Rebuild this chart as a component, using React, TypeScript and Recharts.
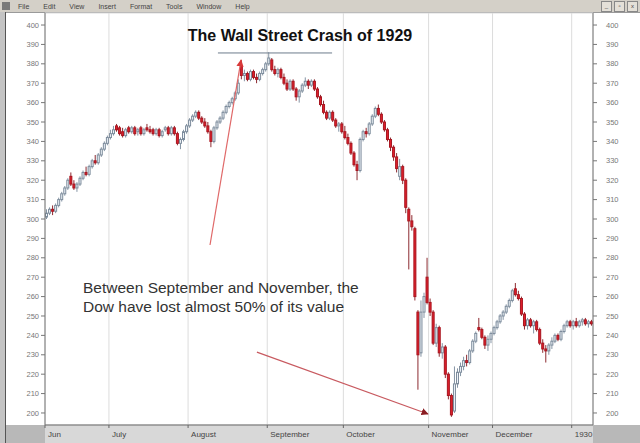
import { ComposedChart, Bar, XAxis, YAxis, CartesianGrid, ReferenceLine } from 'recharts'

// open, high, low, close
type Ohlc = [number, number, number, number]

const june: Ohlc[] = [
  [301, 305, 300, 303], [303, 306, 302, 305], [305, 307, 302, 304], [304, 308, 303, 307],
  [307, 311, 306, 310], [310, 314, 309, 313], [313, 317, 312, 316], [316, 321, 315, 320],
  [322, 324, 317, 318], [318, 320, 315, 316], [316, 319, 314, 318], [318, 322, 317, 321],
  [321, 325, 320, 324], [324, 327, 322, 323], [323, 328, 322, 327], [327, 331, 326, 330],
  [330, 333, 328, 329], [329, 334, 328, 333], [333, 337, 332, 336], [336, 340, 335, 339],
  [339, 343, 338, 342],
]
const july: Ohlc[] = [
  [342, 346, 341, 344], [344, 348, 343, 346], [348, 349, 345, 346], [347, 348, 343, 344],
  [345, 347, 342, 343], [343, 347, 342, 346], [347, 348, 344, 345], [345, 348, 344, 347],
  [347, 348, 343, 344], [345, 347, 343, 346], [347, 348, 343, 344], [344, 347, 343, 346],
  [347, 349, 345, 346], [346, 348, 344, 345], [346, 347, 343, 344], [344, 347, 343, 346],
  [346, 347, 342, 343], [343, 346, 342, 345], [346, 348, 345, 347], [347, 348, 343, 344],
  [344, 348, 343, 347], [347, 348, 343, 344], [344, 345, 338, 339], [339, 342, 336, 341],
  [341, 346, 340, 345], [345, 349, 344, 348],
]
const august: Ohlc[] = [
  [348, 352, 347, 351], [351, 354, 350, 353], [353, 356, 352, 355], [355, 356, 351, 352],
  [352, 353, 349, 350], [350, 352, 347, 348], [348, 350, 344, 345], [345, 346, 337, 340],
  [340, 348, 339, 347], [347, 351, 346, 350], [350, 353, 349, 352], [352, 356, 351, 355],
  [355, 359, 354, 358], [358, 361, 357, 360], [360, 363, 359, 362], [362, 366, 361, 365],
  [365, 372, 364, 370], [379, 382, 372, 374], [374, 377, 371, 375], [375, 376, 371, 372],
  [372, 377, 371, 376], [376, 377, 372, 373], [373, 375, 370, 372], [372, 376, 371, 375],
  [375, 378, 374, 377], [377, 381, 376, 380],
]
const september: Ohlc[] = [
  [380, 386, 379, 383], [382, 383, 376, 377], [377, 379, 374, 375], [375, 378, 373, 377],
  [377, 378, 372, 373], [373, 375, 369, 370], [370, 372, 366, 367], [367, 372, 366, 371],
  [371, 372, 366, 367], [367, 368, 361, 363], [363, 367, 360, 366], [366, 370, 365, 369],
  [369, 373, 368, 371], [371, 372, 367, 369], [369, 372, 368, 371], [371, 372, 366, 367],
  [367, 368, 362, 363], [363, 364, 358, 359], [359, 361, 354, 355], [355, 356, 351, 352],
  [352, 356, 351, 355], [355, 356, 350, 351], [351, 352, 347, 348], [348, 350, 345, 349],
  [349, 350, 344, 345],
]
const october: Ohlc[] = [
  [345, 348, 341, 342], [342, 344, 338, 339], [339, 340, 333, 334], [334, 335, 327, 328],
  [328, 330, 320, 325], [325, 342, 324, 341], [341, 346, 340, 345], [345, 347, 342, 344],
  [344, 350, 343, 349], [349, 354, 348, 353], [353, 358, 352, 357], [357, 359, 353, 354],
  [354, 355, 349, 350], [350, 351, 345, 346], [346, 347, 340, 341], [341, 342, 335, 337],
  [337, 338, 330, 332], [332, 334, 324, 326], [322, 331, 320, 327], [327, 328, 318, 320],
  [320, 321, 303, 306], [305, 306, 274, 299], [299, 302, 294, 296], [295, 296, 258, 260],
  [252, 253, 212, 230], [231, 258, 229, 252], [252, 262, 249, 260], [270, 280, 256, 257],
]
const november: Ohlc[] = [
  [257, 259, 250, 252], [252, 253, 235, 236], [236, 246, 234, 244], [244, 245, 229, 231],
  [231, 236, 228, 234], [234, 235, 218, 220], [220, 221, 207, 209], [209, 210, 198, 199],
  [201, 224, 200, 215], [215, 223, 213, 221], [221, 226, 219, 224], [224, 229, 222, 227],
  [227, 230, 224, 226], [226, 233, 225, 232], [232, 238, 231, 237], [237, 242, 236, 241],
  [244, 249, 242, 243], [243, 244, 238, 239], [239, 240, 233, 235], [235, 240, 232, 238],
  [238, 242, 236, 241],
]
const december: Ohlc[] = [
  [241, 245, 240, 244], [244, 248, 243, 247], [247, 251, 246, 250], [250, 253, 248, 252],
  [252, 256, 251, 255], [255, 259, 254, 258], [258, 264, 257, 263], [264, 267, 260, 261],
  [261, 263, 258, 259], [259, 260, 250, 251], [251, 252, 243, 245], [245, 249, 243, 248],
  [248, 249, 244, 245], [245, 248, 241, 247], [247, 248, 242, 243], [243, 244, 235, 236],
  [236, 238, 231, 233], [233, 235, 226, 232], [232, 236, 230, 235], [235, 239, 233, 237],
  [237, 241, 236, 240], [240, 241, 237, 238], [238, 243, 237, 242], [242, 246, 241, 245],
  [245, 248, 244, 247], [247, 248, 244, 245],
]
const january: Ohlc[] = [
  [245, 248, 243, 247], [247, 249, 244, 245], [245, 248, 244, 247], [247, 249, 245, 248],
  [248, 249, 245, 246], [246, 248, 244, 247], [247, 248, 245, 246],
]

const monthLabels = ['Jun', 'July', 'August', 'September', 'October', 'November', 'December', '1930']
const months = [june, july, august, september, october, november, december, january]
const priceTicks = [200, 210, 220, 230, 240, 250, 260, 270, 280, 290, 300, 310, 320, 330, 340, 350, 360, 370, 380, 390, 400]

// annotations, in (day index, index points)
const peakLine = { from: 56.3, to: 93.8, level: 385.6 }
const arrowToPeak = { x1: 53.7, y1: 286.6, x2: 63.9, y2: 382 }
const arrowToLow = { x1: 69.1, y1: 231.4, x2: 125.3, y2: 199.5 }

const data: { i: number; o: number; h: number; l: number; c: number }[] = []
const monthStarts: number[] = []
months.forEach(rows => {
  monthStarts.push(data.length - 0.5)
  rows.forEach(([o, h, l, c]) => data.push({ i: data.length, o, h, l, c }))
})

const FONT = '"Liberation Sans", Arial, sans-serif'

function Candle(props: any) {
  const { x, y, width, height, payload } = props
  if (!payload || !height) return null
  const { o, h, l, c } = payload
  const py = (v: number) => y + ((h - v) / (h - l)) * height
  const up = c >= o
  const cx = x + width / 2
  const top = py(Math.max(o, c))
  const bot = py(Math.min(o, c))
  return (
    <g>
      <line x1={cx} x2={cx} y1={y} y2={y + height} stroke={up ? '#8494a4' : '#8c2a30'} strokeWidth={1} />
      <rect
        x={x + 0.5}
        y={top}
        width={Math.max(width - 1, 1)}
        height={Math.max(bot - top, 1)}
        fill={up ? '#eef3f8' : '#e0202c'}
        stroke={up ? '#7d8c9c' : '#a8151f'}
        strokeWidth={1}
      />
    </g>
  )
}

function MonthTick(props: any) {
  const { x, y, payload } = props
  const idx = monthStarts.indexOf(payload.value)
  return (
    <text x={x + 3} y={y + 7} fontSize={8} fill="#444" fontFamily={FONT} textAnchor="start">
      {monthLabels[idx]}
    </text>
  )
}

function Arrow(color: string, marker: string) {
  return (p: any) => (
    <line x1={p.x1} y1={p.y1} x2={p.x2} y2={p.y2} stroke={color} strokeWidth={1.2} markerEnd={`url(#${marker})`} />
  )
}

const menuItems = ['File', 'Edit', 'View', 'Insert', 'Format', 'Tools', 'Window', 'Help']

export default function App() {
  return (
    <div style={{ position: 'fixed', left: 0, top: 0, width: 640, height: 443, background: '#fff', overflow: 'hidden', fontFamily: FONT }}>
      <svg width={0} height={0} style={{ position: 'absolute' }}>
        <defs>
          <marker id="headRed" viewBox="0 0 10 10" refX="9" refY="5" markerWidth="6" markerHeight="6" orient="auto">
            <path d="M0,0 L10,5 L0,10 z" fill="#d83a3a" />
          </marker>
          <marker id="headDark" viewBox="0 0 10 10" refX="9" refY="5" markerWidth="6" markerHeight="6" orient="auto">
            <path d="M0,0 L10,5 L0,10 z" fill="#8a1c22" />
          </marker>
        </defs>
      </svg>

      {/* window frame */}
      <div style={{ position: 'absolute', left: 0, top: 0, width: 640, height: 12, background: '#d4d0c8', borderBottom: '1px solid #9a9a9a', display: 'flex', alignItems: 'center', fontSize: 7, color: '#444' }}>
        <span style={{ width: 8, height: 8, background: '#7a7a7a', margin: '0 8px 0 2px' }} />
        {menuItems.map(m => (
          <span key={m} style={{ marginRight: 14 }}>{m}</span>
        ))}
        <span style={{ flex: 1 }} />
        {['_', '▫', 'x'].map(b => (
          <span key={b} style={{ width: 9, height: 9, border: '1px solid #888', background: '#e4e0d8', fontSize: 6, lineHeight: '8px', textAlign: 'center', marginRight: 2 }}>{b}</span>
        ))}
      </div>
      <div style={{ position: 'absolute', left: 0, top: 12, width: 5, height: 431, background: '#c4c4c4', borderRight: '1.5px solid #555' }} />
      <div style={{ position: 'absolute', left: 6, top: 425, width: 39, height: 18, background: '#b8b8b8' }} />
      <div style={{ position: 'absolute', left: 45, top: 425, width: 548, height: 18, background: '#d8d8d8' }} />
      <div style={{ position: 'absolute', left: 593, top: 425, width: 47, height: 18, background: '#b8b8b8' }} />

      <div style={{ position: 'absolute', left: 0, top: 0 }}>
        <ComposedChart width={640} height={443} data={data} margin={{ top: 13, right: 0, bottom: 0, left: 0 }}>
          <CartesianGrid stroke="#dcdcdc" strokeWidth={1} />
          <XAxis
            type="number"
            dataKey="i"
            domain={[-0.5, data.length - 0.5]}
            ticks={monthStarts}
            interval={0}
            allowDataOverflow
            tick={<MonthTick />}
            tickSize={3}
            tickLine={{ stroke: '#666' }}
            axisLine={{ stroke: '#666' }}
            height={18}
          />
          <YAxis
            yAxisId="left"
            domain={[193.8, 406.2]}
            ticks={priceTicks}
            interval={0}
            allowDataOverflow
            width={45}
            tickSize={4}
            tickMargin={2}
            tick={{ fontSize: 7.5, fill: '#777', fontFamily: FONT }}
            tickLine={{ stroke: '#777' }}
            axisLine={{ stroke: '#777' }}
          />
          <YAxis
            yAxisId="right"
            orientation="right"
            domain={[193.8, 406.2]}
            ticks={priceTicks}
            interval={0}
            allowDataOverflow
            width={47}
            tickSize={4}
            tickMargin={9}
            tick={{ fontSize: 7.5, fill: '#777', fontFamily: FONT }}
            tickLine={{ stroke: '#777' }}
            axisLine={{ stroke: '#777' }}
          />
          <Bar
            yAxisId="left"
            dataKey={(d: any) => [d.l, d.h]}
            barSize={3}
            shape={<Candle />}
            isAnimationActive={false}
          />
          <ReferenceLine
            yAxisId="left"
            segment={[{ x: peakLine.from, y: peakLine.level }, { x: peakLine.to, y: peakLine.level }]}
            stroke="#6c7c8c"
            strokeWidth={1}
            ifOverflow="visible"
          />
          <ReferenceLine
            yAxisId="left"
            segment={[{ x: arrowToPeak.x1, y: arrowToPeak.y1 }, { x: arrowToPeak.x2, y: arrowToPeak.y2 }]}
            shape={Arrow('#e06868', 'headRed')}
            ifOverflow="visible"
          />
          <ReferenceLine
            yAxisId="left"
            segment={[{ x: arrowToLow.x1, y: arrowToLow.y1 }, { x: arrowToLow.x2, y: arrowToLow.y2 }]}
            shape={Arrow('#c85a60', 'headDark')}
            ifOverflow="visible"
          />
        </ComposedChart>
      </div>

      <div style={{ position: 'absolute', left: 0, width: 600, top: 27, textAlign: 'center', fontSize: 16, fontWeight: 'bold', color: '#111' }}>
        The Wall Street Crash of 1929
      </div>
      <div style={{ position: 'absolute', left: 83, top: 278, fontSize: 15.5, lineHeight: '19px', color: '#333' }}>
        Between September and November, the
        <br />
        Dow have lost almost 50% of its value
      </div>
    </div>
  )
}
